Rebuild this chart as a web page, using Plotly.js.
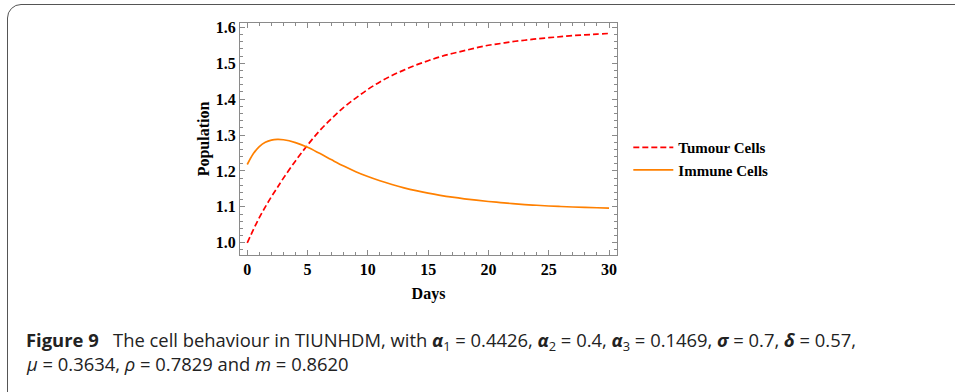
<!DOCTYPE html>
<html>
<head>
<meta charset="utf-8">
<script src="https://cdn.plot.ly/plotly-3.0.1.min.js"></script>
<style>
html,body{margin:0;padding:0;background:#fff;}
#wrap{position:relative;width:955px;height:392px;overflow:hidden;}
#box{position:absolute;left:7px;top:4px;width:1000px;height:420px;border:1.5px solid #555;border-radius:14px;box-sizing:border-box;}
#chart{position:absolute;left:0;top:0;width:955px;height:392px;}
</style>
</head>
<body>
<div id="wrap"><div id="box"></div><div id="chart"></div></div>
<script>
// Data
const days = [0,0.5,1,1.5,2,2.5,3,4,5,6,7,8,9,10,11,12,13,14,15,16,17,18,19,20,21,22,23,24,25,26,27,28,29,30];
const tumourCells = [1.000,1.036,1.070,1.100,1.128,1.154,1.180,1.228,1.272,1.312,1.346,1.377,1.403,1.427,1.448,1.466,1.481,1.495,1.507,1.518,1.527,1.535,1.543,1.550,1.555,1.560,1.564,1.568,1.571,1.574,1.577,1.579,1.581,1.583];
const immuneCells = [1.218,1.248,1.268,1.280,1.286,1.288,1.287,1.279,1.266,1.249,1.231,1.2135,1.198,1.1845,1.1727,1.1623,1.1531,1.1451,1.1382,1.1322,1.127,1.1225,1.1186,1.115,1.112,1.109,1.1065,1.1045,1.1025,1.101,1.0997,1.0986,1.0976,1.0967];
const seriesNames = ["Tumour Cells","Immune Cells"];
const xTicks = [0,5,10,15,20,25,30];
const yTicks = [1.0,1.1,1.2,1.3,1.4,1.5,1.6];
const xTitle = "Days";
const yTitle = "Population";
const caption1 = "<b>Figure 9</b>   The cell behaviour in TIUNHDM, with <b><i>α</i></b><sub>1</sub> = 0.4426, <b><i>α</i></b><sub>2</sub> = 0.4, <b><i>α</i></b><sub>3</sub> = 0.1469, <b><i>σ</i></b> = 0.7, <b><i>δ</i></b> = 0.57,";
const caption2 = "<i>μ</i> = 0.3634, <i>ρ</i> = 0.7829 and <i>m</i> = 0.8620";

const serif = "Liberation Serif, Times New Roman, serif";
const traces = [
  {x: days, y: tumourCells, name: seriesNames[0], type: "scatter", mode: "lines",
   line: {color: "#ff0000", width: 1.7, dash: "6px,3px", shape: "spline"}},
  {x: days, y: immuneCells, name: seriesNames[1], type: "scatter", mode: "lines",
   line: {color: "#ff8000", width: 1.7, shape: "spline"}}
];
const axisCommon = {
  showgrid: false, zeroline: false, showline: true, linecolor: "#8a8a8a", linewidth: 1,
  mirror: "allticks", ticks: "inside", ticklen: 5, tickcolor: "#8a8a8a", tickwidth: 1,
  tickfont: {family: serif, size: 16, color: "#000", weight: "bold"}
};
const layout = {
  width: 955, height: 392,
  margin: {l: 240, r: 338, t: 23, b: 137},
  paper_bgcolor: "rgba(0,0,0,0)", plot_bgcolor: "rgba(0,0,0,0)",
  showlegend: true,
  legend: {x: 1.03, y: 0.415, xanchor: "left", yanchor: "middle", itemwidth: 40,
           font: {family: serif, size: 15, color: "#000", weight: "bold"}, tracegroupgap: 0},
  xaxis: Object.assign({}, axisCommon, {
    range: [-0.6, 30.66], tickvals: xTicks, ticktext: xTicks.map(String),
    minor: {dtick: 1, tick0: 0, ticks: "inside", ticklen: 3, tickcolor: "#8a8a8a"},
    title: {text: "<b>" + xTitle + "</b>", font: {family: serif, size: 16, color: "#000"}, standoff: 10}
  }),
  yaxis: Object.assign({}, axisCommon, {
    range: [0.966, 1.612], tickvals: yTicks, ticktext: yTicks.map(v => v.toFixed(1)),
    minor: {dtick: 0.02, tick0: 1.0, ticks: "inside", ticklen: 3, tickcolor: "#8a8a8a"},
    title: {text: "<b>" + yTitle + "</b>", font: {family: serif, size: 16, color: "#000"}, standoff: 2}
  }),
  annotations: [
    {text: caption1, xref: "paper", yref: "paper", x: (24-240)/377, y: (255-341)/232,
     xanchor: "left", yanchor: "middle", showarrow: false, align: "left",
     font: {family: "Open Sans, sans-serif", size: 18.4, color: "#222"}},
    {text: caption2, xref: "paper", yref: "paper", x: (24-240)/377, y: (255-363)/232,
     xanchor: "left", yanchor: "middle", showarrow: false, align: "left",
     font: {family: "Open Sans, sans-serif", size: 18.4, color: "#222"}}
  ]
};
Plotly.newPlot("chart", traces, layout, {displayModeBar: false, staticPlot: true});
</script>
</body>
</html>
